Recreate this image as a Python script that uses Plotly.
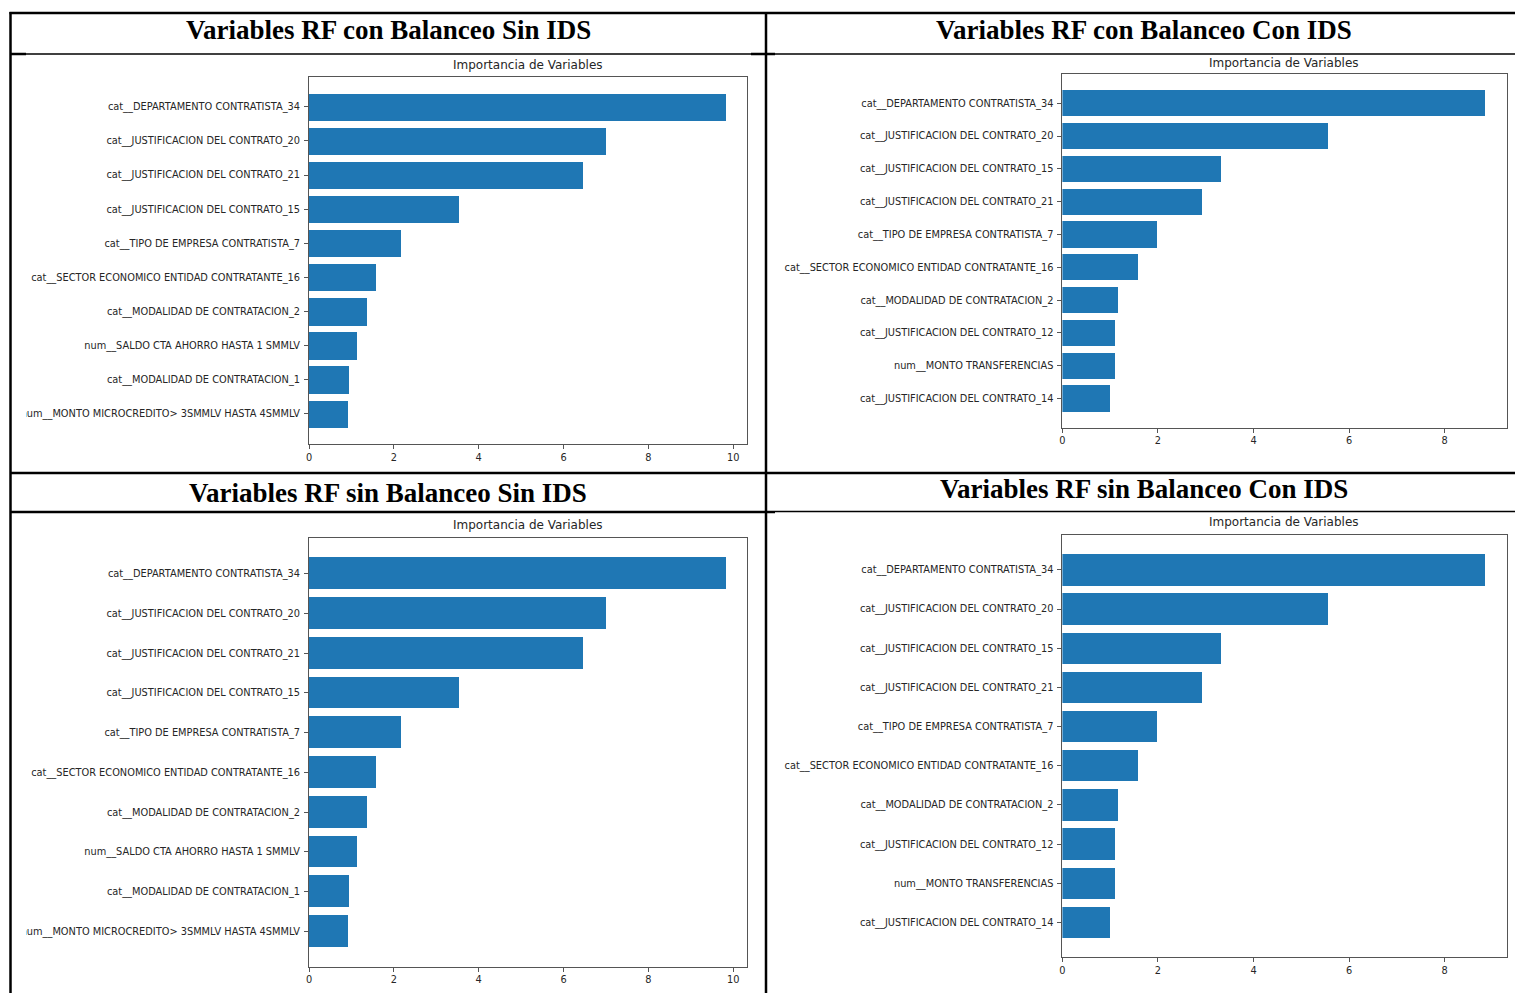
import plotly.graph_objects as go

# ---------------- data ----------------
panel_titles = [
    "Variables RF con Balanceo Sin IDS",
    "Variables RF con Balanceo Con IDS",
    "Variables RF sin Balanceo Sin IDS",
    "Variables RF sin Balanceo Con IDS",
]
subplot_title = "Importancia de Variables"

cats_sin_ids = [
    "cat__DEPARTAMENTO CONTRATISTA_34",
    "cat__JUSTIFICACION DEL CONTRATO_20",
    "cat__JUSTIFICACION DEL CONTRATO_21",
    "cat__JUSTIFICACION DEL CONTRATO_15",
    "cat__TIPO DE EMPRESA CONTRATISTA_7",
    "cat__SECTOR ECONOMICO ENTIDAD CONTRATANTE_16",
    "cat__MODALIDAD DE CONTRATACION_2",
    "num__SALDO CTA AHORRO HASTA 1 SMMLV",
    "cat__MODALIDAD DE CONTRATACION_1",
    "num__MONTO MICROCREDITO> 3SMMLV HASTA 4SMMLV",
]
vals_con_bal_sin_ids = [9.82, 7.01, 6.45, 3.54, 2.16, 1.57, 1.37, 1.14, 0.95, 0.93]
vals_sin_bal_sin_ids = [9.82, 7.01, 6.45, 3.54, 2.16, 1.57, 1.37, 1.14, 0.95, 0.93]

cats_con_ids = [
    "cat__DEPARTAMENTO CONTRATISTA_34",
    "cat__JUSTIFICACION DEL CONTRATO_20",
    "cat__JUSTIFICACION DEL CONTRATO_15",
    "cat__JUSTIFICACION DEL CONTRATO_21",
    "cat__TIPO DE EMPRESA CONTRATISTA_7",
    "cat__SECTOR ECONOMICO ENTIDAD CONTRATANTE_16",
    "cat__MODALIDAD DE CONTRATACION_2",
    "cat__JUSTIFICACION DEL CONTRATO_12",
    "num__MONTO TRANSFERENCIAS",
    "cat__JUSTIFICACION DEL CONTRATO_14",
]
vals_con_bal_con_ids = [8.85, 5.56, 3.33, 2.92, 1.98, 1.60, 1.18, 1.11, 1.10, 1.00]
vals_sin_bal_con_ids = [8.85, 5.56, 3.33, 2.92, 1.98, 1.60, 1.18, 1.11, 1.10, 1.00]

x_ticks = [0, 2, 4, 6, 8, 10]

# ---------------- layout helpers ----------------
W, H = 1515, 993
def px(x):
    return x / W
def py(y):
    return 1 - y / H

BAR_COLOR = "#1f77b4"
LABEL_FONT = dict(family="DejaVu Sans", size=9.8, color="#262626")

panels = [
    # (cats, vals, x-pixel domain, y-pixel domain(top,bottom), panel title pos, subtitle y)
    (cats_sin_ids, vals_con_bal_sin_ids, (309, 746.5), (76.5, 444), (388, 30), 65),
    (cats_con_ids, vals_con_bal_con_ids, (1062.4, 1506.5), (74, 427.7), (1144, 30), 63),
    (cats_sin_ids, vals_sin_bal_sin_ids, (309, 746.5), (538.3, 966.7), (388, 493), 525),
    (cats_con_ids, vals_sin_bal_con_ids, (1062.4, 1506.5), (535, 957.3), (1144, 489), 522),
]

fig = go.Figure()
annotations = []
for i, (cats, vals, (x0, x1), (yt, yb), (tx, ty), sty) in enumerate(panels):
    n = i + 1
    xa = "x" if n == 1 else f"x{n}"
    ya = "y" if n == 1 else f"y{n}"
    fig.add_trace(go.Bar(
        x=vals, y=cats, orientation="h", width=0.8,
        marker=dict(color=BAR_COLOR, line=dict(width=0)),
        xaxis=xa, yaxis=ya, showlegend=False,
    ))
    xmax = max(vals) * 1.05
    common = dict(showline=True, linecolor="#555555", linewidth=1, mirror=True,
                  showgrid=False, zeroline=False, ticks="outside", ticklen=4,
                  tickcolor="#555555", automargin=False)
    xkey = "xaxis" if n == 1 else f"xaxis{n}"
    ykey = "yaxis" if n == 1 else f"yaxis{n}"
    fig.update_layout(**{
        xkey: dict(domain=[px(x0), px(x1)], anchor=ya, range=[0, xmax],
                   tickvals=[t for t in x_ticks if t <= xmax],
                   tickfont=LABEL_FONT, **common),
        ykey: dict(domain=[py(yb), py(yt)], anchor=xa, type="category",
                   range=[len(cats) - 1 + 0.89, -0.89],
                   tickfont=LABEL_FONT, ticklabelstandoff=2, **common),
    })
    annotations.append(dict(
        text=panel_titles[i], x=px(tx), y=py(ty), xref="paper", yref="paper",
        showarrow=False, xanchor="center", yanchor="middle",
        font=dict(family="Liberation Serif", size=27, color="black", weight="bold"),
    ))
    annotations.append(dict(
        text=subplot_title, x=px((x0 + x1) / 2), y=py(sty), xref="paper", yref="paper",
        showarrow=False, xanchor="center", yanchor="middle",
        font=dict(family="DejaVu Sans", size=12, color="#262626"),
    ))

# table borders
def hline(y, x0, x1, w):
    return dict(type="line", xref="paper", yref="paper", x0=px(x0), x1=px(x1),
                y0=py(y), y1=py(y), line=dict(color="black", width=w), layer="above")
def vline(x, y0, y1, w):
    return dict(type="line", xref="paper", yref="paper", x0=px(x), x1=px(x),
                y0=py(y0), y1=py(y1), line=dict(color="black", width=w), layer="above")

shapes = [
    # crop of the left-most label (as in the source picture)
    dict(type="rect", xref="paper", yref="paper", x0=px(11), x1=px(26),
         y0=py(470), y1=py(56), fillcolor="white", line=dict(width=0), layer="above"),
    dict(type="rect", xref="paper", yref="paper", x0=px(11), x1=px(26),
         y0=py(993), y1=py(514), fillcolor="white", line=dict(width=0), layer="above"),
    hline(13, 9.5, 1515, 2.5),
    vline(10.5, 12, 993, 2.5),
    vline(766, 12, 993, 2.5),
    hline(54, 10, 1515, 1.5),
    hline(54, 10, 26, 2.5),
    hline(54, 751, 775, 2.5),
    hline(473, 10, 1515, 2.5),
    hline(512, 10, 775, 2.5),
    hline(511.5, 775, 1515, 1.5),
]

fig.update_layout(
    width=W, height=H, autosize=False,
    margin=dict(l=0, r=0, t=0, b=0),
    paper_bgcolor="white", plot_bgcolor="white",
    template="none",
    annotations=annotations, shapes=shapes,
    bargap=0,
)

fig.write_html("out.html",
               config={"displayModeBar": False},
               post_script="document.body.style.margin='0px';document.body.style.overflow='hidden';")
